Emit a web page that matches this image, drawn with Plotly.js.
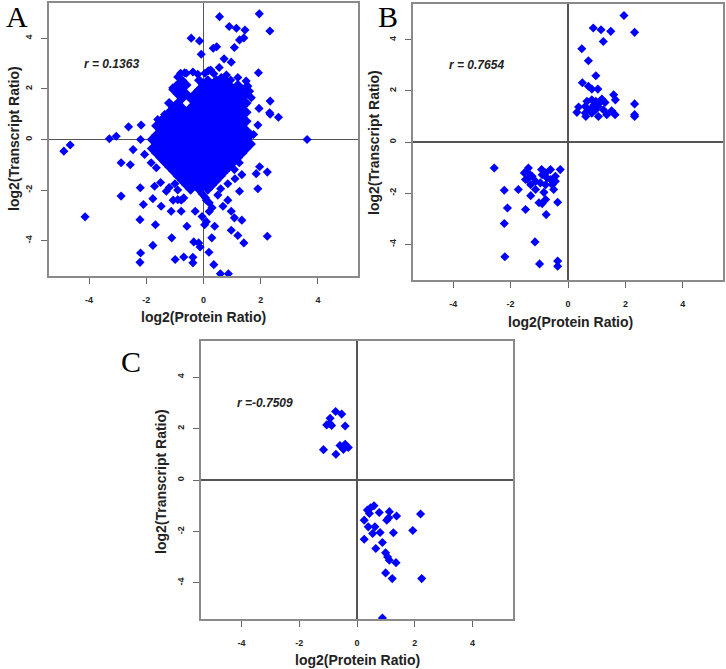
<!DOCTYPE html>
<html>
<head>
<meta charset="utf-8">
<script src="https://cdn.plot.ly/plotly-3.0.1.min.js"></script>
<style>html,body{margin:0;padding:0;background:#fff;}#chart{width:726px;height:669px;}</style>
</head>
<body>
<div id="chart"></div>
<script>
// ---------- Panel A: scattered points (log2 protein ratio, log2 transcript ratio) ----------
const proteinA_out = [
  1.95, 0.56, 0.90, 1.15, 1.45, 2.32, -0.43, -0.14, 1.26, 1.41,
  0.34, 0.46, 1.08, -0.08, 0.72, 0.97, 0.17, 0.36, 0.55, 0.80, 0.62,
  -0.37, -0.66, -0.90, -0.95, -1.07,
  1.92, 1.49, 1.55, 1.61, 1.67, 2.33, 2.31, 2.33, 1.94, 2.62, 1.90, 1.75, 3.62,
  -4.88, -4.66, -3.29, -3.05, -2.62, -2.18, -2.20, -2.46, -2.88, -2.56,
  -1.60, -1.36, -2.06, -1.83, -1.65,
  -2.88, -4.14, -2.21, -2.10, -2.22, -2.20, -2.22,
  -1.77, -1.71, -1.68, -1.77, -1.48, -1.13, -1.11, -0.99, -0.69, -0.37, -0.37,
  -0.58, -0.78, -1.06, -0.78, -1.30, -0.29, -0.34, -0.17, -0.12,
  -1.50, -1.20, -0.90, -1.00, -0.69, -0.90,
  1.96, 1.84, 2.23, 1.90, 1.26, 1.34, 1.08, 0.85, 0.97, 1.08, 1.34, 0.97, 1.20, 1.41, 2.23,
  0.68, 0.39, 0.29, 0.19, 0.36, 0.59, 0.87, 0.04, 0.07, 0.20, 0.30, 0.50, 0.60, 0.85, 1.25, 1.10,
  -0.05, 0.10, 0.20, -0.05, 0.10,
  -0.60, -0.20, 0.05, 0.25, 0.95, 1.20, 1.45, -0.80
];
const transcriptA_out = [
  4.97, 4.86, 4.47, 4.40, 4.33, 4.29, 4.01, 3.90, 3.94, 4.02,
  3.61, 3.67, 3.64, 3.37, 3.19, 3.06, 2.72, 2.60, 2.85, 2.55, 2.45,
  2.67, 2.64, 2.47, 2.14, 2.05,
  2.64, 2.31, 2.11, 1.91, 1.65, 1.52, 1.06, 1.00, 1.23, 0.88, 0.57, 0.20, 0.00,
  -0.46, -0.22, 0.03, 0.13, 0.50, 0.57, 0.00, -0.40, -0.92, -1.00,
  0.79, 0.99, -0.59, -0.92, -1.12,
  -2.24, -3.06, -1.91, -2.57, -3.17, -4.49, -4.86,
  -2.34, -1.85, -3.37, -4.19, -2.64, -2.84, -3.89, -4.75, -4.65, -4.66, -4.88,
  -3.43, -2.84, -2.40, -2.40, -2.05, -2.84, -4.05, -4.09, -4.25,
  -1.70, -1.90, -2.00, -1.75, -2.31, -2.38,
  -1.08, -1.35, -1.29, -1.95, -2.05, -1.39, -1.19, -2.40, -2.84, -3.10, -3.19, -3.59, -3.80, -4.09, -3.83,
  -2.64, -3.43, -3.89, -4.46, -4.95, -5.31, -5.31, -3.37, -2.30, -2.50, -2.70, -2.20, -1.95, -1.75, -0.92, -1.55,
  -2.15, -2.40, -2.85, -3.05, -3.25,
  2.62, 2.58, 2.62, 2.75, 2.35, 2.45, 2.05, 2.62
];
// Dense core of panel A, read row by row (transcript level, then protein values in that row)
const coreRowTranscriptA = [2.34, 2.16, 1.98, 1.80, 1.62, 1.44, 1.26, 1.08, 0.90, 0.72, 0.54, 0.36, 0.18, 0.00,
  -0.18, -0.36, -0.54, -0.72, -0.90, -1.08, -1.26, -1.44, -1.62, -1.80, -1.98];
const coreRowProteinA = [
  [-0.75, -0.15, 0.15, 0.45, 0.75],
  [-0.9, -0.6, 0, 0.3, 0.6, 0.9, 1.2],
  [-1.05, -0.75, -0.15, 0.15, 0.45, 0.75, 1.05, 1.35],
  [-0.9, -0.6, -0.3, 0, 0.3, 0.6, 0.9, 1.2, 1.5],
  [-0.75, -0.45, -0.15, 0.15, 0.45, 0.75, 1.05, 1.35],
  [-1.2, -0.9, -0.3, 0, 0.3, 0.6, 0.9, 1.2, 1.5],
  [-1.05, -0.75, -0.45, -0.15, 0.15, 0.45, 0.75, 1.05, 1.35],
  [-1.2, -0.9, -0.6, -0.3, 0, 0.3, 0.6, 0.9, 1.2, 1.5],
  [-1.35, -1.05, -0.75, -0.45, -0.15, 0.15, 0.45, 0.75, 1.05, 1.35],
  [-1.5, -1.2, -0.9, -0.6, -0.3, 0, 0.3, 0.6, 0.9, 1.2, 1.5],
  [-1.65, -1.35, -1.05, -0.75, -0.45, -0.15, 0.15, 0.45, 0.75, 1.05, 1.35],
  [-1.5, -1.2, -0.9, -0.6, -0.3, 0, 0.3, 0.6, 0.9, 1.2, 1.5],
  [-1.65, -1.35, -1.05, -0.75, -0.45, -0.15, 0.15, 0.45, 0.75, 1.05, 1.35, 1.65],
  [-1.8, -1.5, -1.2, -0.9, -0.6, -0.3, 0, 0.3, 0.6, 0.9, 1.2, 1.5],
  [-1.65, -1.35, -1.05, -0.75, -0.45, -0.15, 0.15, 0.45, 0.75, 1.05, 1.35, 1.65],
  [-1.8, -1.5, -1.2, -0.9, -0.6, -0.3, 0, 0.3, 0.6, 0.9, 1.2, 1.5],
  [-1.65, -1.35, -1.05, -0.75, -0.45, -0.15, 0.15, 0.45, 0.75, 1.05, 1.35],
  [-1.5, -1.2, -0.9, -0.6, -0.3, 0, 0.3, 0.6, 0.9, 1.2],
  [-1.35, -1.05, -0.75, -0.45, -0.15, 0.15, 0.45, 0.75, 1.05],
  [-1.2, -0.9, -0.6, -0.3, 0, 0.3, 0.6, 0.9],
  [-1.05, -0.75, -0.45, -0.15, 0.15, 0.45, 0.75],
  [-0.9, -0.6, -0.3, 0, 0.3, 0.6],
  [-0.75, -0.45, -0.15, 0.15, 0.45],
  [-0.6, -0.3, 0, 0.3],
  [-0.45, -0.15, 0.15]
];

// ---------- Panel B ----------
const proteinB = [
  1.95, 0.88, 1.15, 1.49, 2.32, 1.23, 0.48, 0.71, 0.97, 0.50, 0.71, 0.83, 1.04, 1.59, 1.65, 2.32, 2.32, 2.32,
  0.66, 0.83, 0.97, 1.18, 1.29, 0.37, 0.31, 0.60, 0.71, 0.83, 1.04, 0.95, 1.23, 1.52, 0.62, 1.06, 1.35, 1.64,
  0.83, 0.60, 1.12, 0.90,
  -2.57, -2.22, -2.11, -2.22, -2.20, -1.73, -1.48, -1.15, -0.99, -0.36, -0.36, -0.36, -0.76, -1.01, -0.90,
  -0.78, -1.30, -0.84, -1.13, -1.38, -1.38, -1.42, -1.25, -1.13, -0.92, -0.78, -0.61, -0.90, -0.27,
  -0.44, -0.44, -0.55, -0.50, -0.78, -0.96, -0.73, -0.61, -1.52, -1.48, -1.30
];
const transcriptB = [
  4.95, 4.46, 4.39, 4.33, 4.29, 3.93, 3.65, 3.18, 2.59, 2.32, 2.18, 2.07, 2.07, 1.85, 1.65, 1.49, 1.07, 1.00,
  1.59, 1.65, 1.59, 1.68, 1.55, 1.37, 1.16, 1.39, 1.26, 1.33, 1.39, 1.24, 1.26, 1.22, 1.00, 1.00, 1.07, 1.07,
  1.13, 1.13, 1.55, 1.45,
  -1.02, -1.89, -2.58, -3.19, -4.49, -1.86, -2.64, -3.91, -4.77, -4.66, -4.86, -2.36, -2.84, -2.38, -2.41,
  -2.25, -2.10, -1.97, -1.86, -1.02, -1.21, -1.47, -1.34, -1.54, -1.08, -1.21, -1.08, -1.28, -1.08,
  -1.34, -1.54, -1.67, -1.86, -1.67, -1.60, -1.41, -1.47, -1.21, -1.47, -1.67
];

// ---------- Panel C ----------
const proteinC = [
  -0.74, -0.53, -0.93, -1.05, -0.88, -0.41, -1.16, -0.73, -0.59, -0.47, -0.30, -0.41, -0.95,
  0.25, 0.36, 0.47, 0.59, 0.43, 0.77, 1.12, 1.03, 1.10, 1.37, 2.20, 0.39, 0.62, 0.54, 0.80, 1.26, 1.93,
  0.25, 0.88, 0.65, 0.99, 1.06, 1.12, 1.35, 0.99, 1.22, 2.24, 0.88
];
const transcriptC = [
  2.66, 2.56, 2.40, 2.14, 2.12, 2.10, 1.18, 1.00, 1.34, 1.19, 1.26, 1.39, 2.20,
  -1.56, -1.17, -1.08, -1.00, -1.30, -1.26, -1.23, -1.56, -1.47, -1.40, -1.32, -1.82, -1.82, -2.08, -2.04, -2.05, -1.96,
  -2.30, -2.43, -2.66, -2.83, -2.99, -3.12, -3.21, -3.61, -3.83, -3.83, -5.36
];

const rValues = ['r = 0.1363', 'r = 0.7654', 'r =-0.7509'];
const panelLetters = ['A', 'B', 'C'];
const tickVals = [-4, -2, 0, 2, 4];
const tickLabels = ['-4', '-2', '0', '2', '4'];
const xTitle = 'log2(Protein Ratio)';
const yTitle = 'log2(Transcript Ratio)';

// flatten core rows of panel A
const coreProteinA = [], coreTranscriptA = [];
coreRowProteinA.forEach((row, i) => {
  row.forEach(v => { coreProteinA.push(v); coreTranscriptA.push(coreRowTranscriptA[i]); });
});

const marker = {symbol: 'diamond', size: 7, color: '#0000FF', line: {width: 0}};
const coreMarker = {symbol: 'diamond', size: 8, color: '#0000FF', line: {width: 0}};
const traces = [
  {x: coreProteinA, y: coreTranscriptA, xaxis: 'x', yaxis: 'y', type: 'scatter', mode: 'markers', marker: coreMarker, hoverinfo: 'skip'},
  {x: proteinA_out, y: transcriptA_out, xaxis: 'x', yaxis: 'y', type: 'scatter', mode: 'markers', marker: marker, hoverinfo: 'skip'},
  {x: proteinB, y: transcriptB, xaxis: 'x2', yaxis: 'y2', type: 'scatter', mode: 'markers', marker: marker, hoverinfo: 'skip'},
  {x: proteinC, y: transcriptC, xaxis: 'x3', yaxis: 'y3', type: 'scatter', mode: 'markers', marker: marker, hoverinfo: 'skip'}
];

const tickFont = {family: 'Liberation Sans, Arial, sans-serif', size: 9, color: '#222', weight: 'bold'};
function axis(domain, anchor, isY) {
  return {
    domain: domain, anchor: anchor, range: [-5.4, 5.4], autorange: false,
    tickmode: 'array', tickvals: tickVals, ticktext: tickLabels,
    ticks: 'outside', ticklen: 6, tickwidth: 1, tickcolor: '#666',
    ticklabelstandoff: isY ? 5 : 8,
    tickangle: isY ? -90 : 0,
    tickfont: tickFont,
    showline: true, mirror: true, linecolor: '#8a8a8a', linewidth: 2,
    showgrid: false, zeroline: true, zerolinecolor: '#555', zerolinewidth: 1.2,
    fixedrange: true
  };
}

const W = 726, H = 669;
const dA = {x: [49 / W, 358 / W], y: [1 - 276 / H, 1 - 3 / H]};
const dB = {x: [413 / W, 723 / W], y: [1 - 280 / H, 1 - 4 / H]};
const dC = {x: [201 / W, 513 / W], y: [1 - 619 / H, 1 - 341 / H]};

const titleFont = {family: 'Liberation Sans, Arial, sans-serif', size: 14, color: '#222', weight: 'bold'};
const rFont = {family: 'Liberation Sans, Arial, sans-serif', size: 12, color: '#222', weight: 'bold', style: 'italic'};
const letterFont = {family: 'Liberation Serif, Times New Roman, serif', size: 30, color: '#000'};

function pt(x, y) { return {x: x / W, y: 1 - y / H}; }
const annotations = [];
const xTitlePos = [pt(203, 317), pt(570, 322), pt(357, 660)];
const yTitlePos = [pt(14, 139), pt(374, 143), pt(161, 482)];
const letterPos = [pt(17, 16), pt(388, 16), pt(131, 361)];
const axX = ['x', 'x2', 'x3'], axY = ['y', 'y2', 'y3'];
for (let i = 0; i < 3; i++) {
  annotations.push({xref: 'paper', yref: 'paper', x: xTitlePos[i].x, y: xTitlePos[i].y, text: xTitle,
    showarrow: false, xanchor: 'center', yanchor: 'middle', font: titleFont});
  annotations.push({xref: 'paper', yref: 'paper', x: yTitlePos[i].x, y: yTitlePos[i].y, text: yTitle,
    showarrow: false, xanchor: 'center', yanchor: 'middle', textangle: -90, font: titleFont});
  annotations.push({xref: 'paper', yref: 'paper', x: letterPos[i].x, y: letterPos[i].y, text: panelLetters[i],
    showarrow: false, xanchor: 'center', yanchor: 'middle', font: letterFont});
  annotations.push({xref: axX[i], yref: axY[i], x: -3.2, y: 3.0, text: rValues[i],
    showarrow: false, xanchor: 'center', yanchor: 'middle', font: rFont});
}

const layout = {
  width: W, height: H, margin: {l: 0, r: 0, t: 0, b: 0},
  paper_bgcolor: '#fff', plot_bgcolor: '#fff', showlegend: false,
  xaxis: axis(dA.x, 'y', false), yaxis: axis(dA.y, 'x', true),
  xaxis2: axis(dB.x, 'y2', false), yaxis2: axis(dB.y, 'x2', true),
  xaxis3: axis(dC.x, 'y3', false), yaxis3: axis(dC.y, 'x3', true),
  annotations: annotations
};

Plotly.newPlot('chart', traces, layout, {displayModeBar: false, staticPlot: true});
</script>
</body>
</html>
